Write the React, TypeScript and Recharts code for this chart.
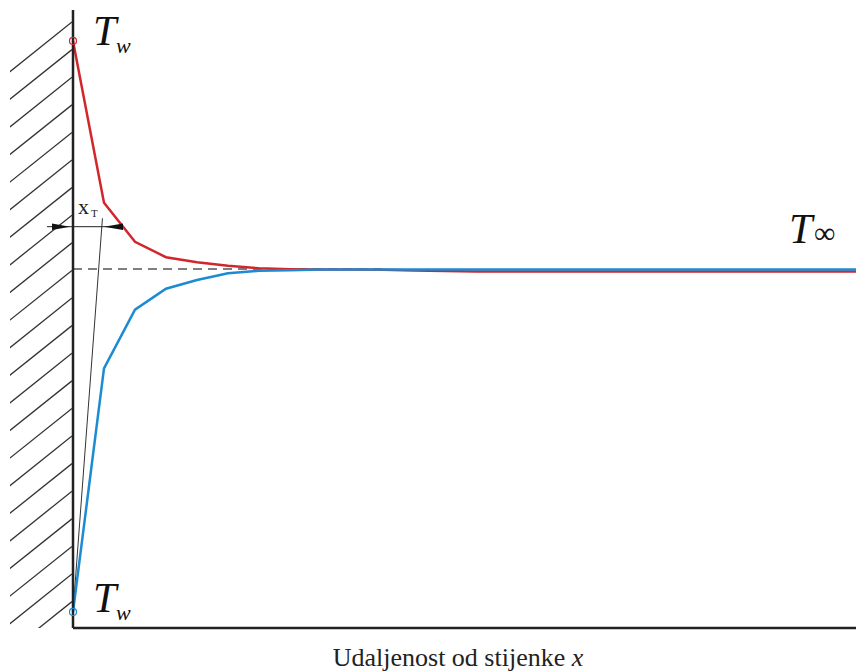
import { LineChart, Line, XAxis, YAxis, ReferenceLine } from "recharts";

// udaljenost od stijenke (relativne jedinice)
const DISTANCE = [0, 1, 2, 3, 4, 5, 6, 7, 8, 9, 10, 11, 12, 13, 14, 15, 16, 17, 18, 19, 20, 21, 22, 23, 24, 25, 25.26];
// temperatura, zagrijana stijenka (crveno)
const HOT_WALL = [95.0, 68.8, 62.5, 60.0, 59.2, 58.6, 58.2, 58.05, 58.0, 58.0, 57.95, 57.85, 57.75, 57.7, 57.7, 57.7, 57.7, 57.7, 57.7, 57.7, 57.7, 57.7, 57.7, 57.7, 57.7, 57.7, 57.7];
// temperatura, hladna stijenka (plavo)
const COLD_WALL = [2.6, 42.0, 51.5, 54.9, 56.3, 57.4, 57.8, 57.9, 58.0, 58.0, 58.0, 58.0, 58.0, 58.0, 58.0, 58.0, 58.0, 58.0, 58.0, 58.0, 58.0, 58.0, 58.0, 58.0, 58.0, 58.0, 58.0];
const T_INF = 58.1;
const TANGENT_TOP = { x: 0.95, y: 66.3 };

const data = DISTANCE.map((x, i) => ({ x, hot: HOT_WALL[i], cold: COLD_WALL[i] }));

const RED = "#d1262c";
const BLUE = "#1b8bd2";
const SERIF = "'Liberation Serif', 'DejaVu Serif', serif";

const W = 856;
const H = 672;
const M = { top: 10, right: 0, left: 73, bottom: 44 };

const startDot = (color: string) => (p: any) =>
  p.index === 0 ? (
    <circle key={`d${p.index}`} cx={p.cx} cy={p.cy} r={3.5} fill="none" stroke={color} strokeWidth={1.2} />
  ) : (
    <g key={`d${p.index}`} />
  );

function Hatch() {
  const wallX = M.left - 1;
  const lines = [];
  for (let k = 0; k < 22; k++) {
    const y = 22 + k * 27.6;
    lines.push(<line key={k} x1={wallX} y1={y} x2={wallX - 90} y2={y + 72} stroke="#333" strokeWidth={1.3} />);
  }
  return (
    <g>
      <defs>
        <clipPath id="hatchClip">
          <rect x={10} y={0} width={wallX - 10} height={H - M.bottom} />
        </clipPath>
      </defs>
      <g clipPath="url(#hatchClip)">{lines}</g>
    </g>
  );
}

export default function App() {
  return (
    <div style={{ position: "absolute", left: 0, top: 0, width: W, height: H, background: "#fff" }}>
      <LineChart width={W} height={H} data={data} margin={M}>
        <XAxis dataKey="x" type="number" domain={[0, 25.26]} hide />
        <YAxis type="number" domain={[0, 100]} hide />
        <ReferenceLine
          segment={[{ x: 0, y: T_INF }, { x: 10, y: T_INF }]}
          stroke="#555"
          strokeWidth={1.5}
          strokeDasharray="9 6"
        />
        <ReferenceLine
          segment={[{ x: 0, y: COLD_WALL[0] }, TANGENT_TOP]}
          stroke="#333"
          strokeWidth={1}
        />
        <Line
          dataKey="hot"
          stroke={RED}
          strokeWidth={2.5}
          dot={startDot(RED)}
          activeDot={false}
          isAnimationActive={false}
        />
        <Line
          dataKey="cold"
          stroke={BLUE}
          strokeWidth={2.5}
          dot={startDot(BLUE)}
          activeDot={false}
          isAnimationActive={false}
        />
        <ReferenceLine x={0} stroke="#222" strokeWidth={2.5} />
        <ReferenceLine y={0} stroke="#222" strokeWidth={2.5} />
      </LineChart>
      <svg
        width={W}
        height={H}
        style={{ position: "absolute", left: 0, top: 0, pointerEvents: "none" }}
      >
        <Hatch />
        {/* kota x_T */}
        <line x1={47} y1={226.7} x2={123} y2={226.7} stroke="#222" strokeWidth={1} />
        <polygon points="52,223.5 70,226.7 52,229.9" fill="#111" />
        <polygon points="123,223.5 104,226.7 123,229.9" fill="#111" />
        <text x={78} y={214} fontFamily={SERIF} fontSize={22} fill="#222">
          x
        </text>
        <text x={91} y={217} fontFamily={SERIF} fontSize={11} fill="#222">
          T
        </text>
        {/* T_w gore */}
        <text x={93} y={45} fontFamily={SERIF} fontSize={42} fontStyle="italic" fill="#111">
          T
        </text>
        <text x={116} y={53} fontFamily={SERIF} fontSize={22} fontStyle="italic" fill="#111">
          w
        </text>
        {/* T_w dolje */}
        <text x={93} y={612} fontFamily={SERIF} fontSize={42} fontStyle="italic" fill="#111">
          T
        </text>
        <text x={116} y={620} fontFamily={SERIF} fontSize={22} fontStyle="italic" fill="#111">
          w
        </text>
        {/* T beskonacno */}
        <text x={789} y={243} fontFamily={SERIF} fontSize={42} fontStyle="italic" fill="#111">
          T
        </text>
        <text x={814} y={243} fontFamily={SERIF} fontSize={30} fill="#111">
          ∞
        </text>
        <text x={458} y={666} fontFamily={SERIF} fontSize={26} fill="#222" textAnchor="middle">
          Udaljenost od stijenke <tspan fontStyle="italic">x</tspan>
        </text>
      </svg>
    </div>
  );
}
